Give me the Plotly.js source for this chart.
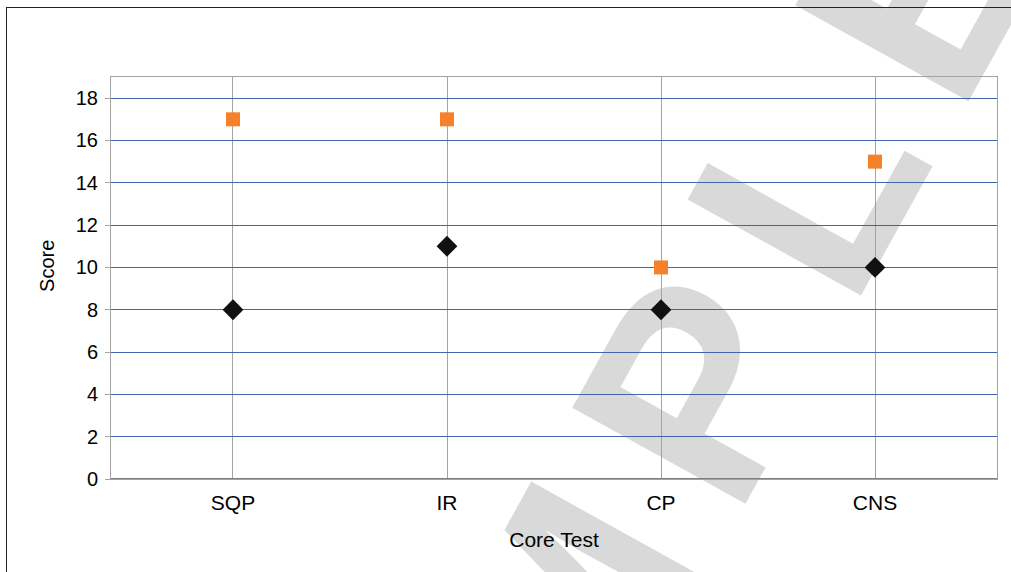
<!DOCTYPE html>
<html>
<head>
<meta charset="utf-8">
<script src="https://cdn.plot.ly/plotly-3.0.1.min.js"></script>
<style>
  html, body { margin: 0; padding: 0; background: #ffffff; overflow: hidden; }
  #wrap { position: relative; width: 1011px; height: 572px; overflow: hidden; background: #fff; }
  #wm { position: absolute; left: 0; top: 0; width: 1011px; height: 572px; z-index: 0; }
  #frame { position: absolute; left: 6px; top: 7px; width: 1100px; height: 700px;
           border: 1.5px solid #222; z-index: 2; pointer-events: none; }
  #chart { position: absolute; left: 0; top: 0; width: 1011px; height: 572px; z-index: 1; }
</style>
</head>
<body>
<div id="wrap">
  <svg id="wm" width="1011" height="572" xmlns="http://www.w3.org/2000/svg">
    <text x="0" y="0" transform="translate(359,1201) rotate(-61)"
          font-family="Liberation Sans, Arial, sans-serif" font-weight="bold"
          font-size="288" letter-spacing="46" fill="#d9d9d9">SAMPLE</text>
  </svg>
  <div id="frame"></div>
  <div id="chart"></div>
</div>
<script>
const categories = ["SQP", "IR", "CP", "CNS"];
const orangeScores = [17, 17, 10, 15];
const blackScores = [8, 11, 8, 10];
const yTicks = [0, 2, 4, 6, 8, 10, 12, 14, 16, 18];

const font = "Liberation Sans, Arial, sans-serif";

const traces = [
  {
    x: categories, y: orangeScores, type: "scatter", mode: "markers",
    marker: { symbol: "square", size: 14, color: "#f5822a" },
    name: "Series 1"
  },
  {
    x: categories, y: blackScores, type: "scatter", mode: "markers",
    marker: { symbol: "diamond", size: 16, color: "#111111" },
    name: "Series 2"
  }
];

const layout = {
  width: 1011, height: 572,
  margin: { l: 111, r: 14, t: 77, b: 93 },
  paper_bgcolor: "rgba(0,0,0,0)",
  plot_bgcolor: "rgba(0,0,0,0)",
  showlegend: false,
  font: { family: font, size: 21, color: "#000" },
  xaxis: {
    type: "category",
    categoryorder: "array", categoryarray: categories,
    range: [-0.57, 3.57],
    showgrid: true, gridcolor: "#a3a3a3", gridwidth: 1,
    showline: true, linecolor: "#a3a3a3", linewidth: 1, mirror: true,
    ticks: "", ticklabelstandoff: 5, tickfont: { size: 21, family: font },
    title: { text: "Core Test", font: { size: 21, family: font }, standoff: 19 },
    zeroline: false, fixedrange: true
  },
  yaxis: {
    range: [0, 19],
    tickvals: yTicks,
    showgrid: true, gridcolor: "#4263b2", gridwidth: 1,
    showline: true, linecolor: "#a3a3a3", linewidth: 1, mirror: true,
    ticks: "outside", ticklen: 5, tickcolor: "#a3a3a3",
    ticklabelstandoff: 3,
    tickfont: { size: 20, family: font },
    zeroline: false, fixedrange: true
  },
  annotations: [
    { text: "Score", xref: "paper", yref: "paper", x: 0, y: 0.53,
      xanchor: "center", yanchor: "middle", xshift: -64, textangle: -90,
      showarrow: false, font: { size: 20, family: font, color: "#000" } }
  ],
  shapes: [
    { type: "line", xref: "paper", yref: "y", x0: 0, x1: 1, y0: 0, y1: 0,
      line: { color: "#808080", width: 2 } }
  ]
};

Plotly.newPlot("chart", traces, layout, { displayModeBar: false, staticPlot: true });
</script>
</body>
</html>
